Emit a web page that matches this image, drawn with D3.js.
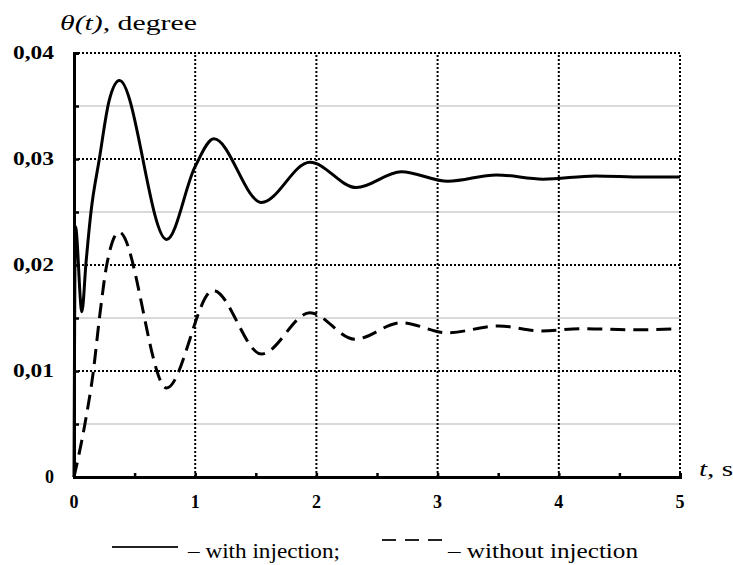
<!DOCTYPE html>
<html>
<head>
<meta charset="utf-8">
<script src="https://cdn.jsdelivr.net/npm/d3@7"></script>
<style>
  body { margin: 0; background: #fff; }
</style>
</head>
<body>
<div id="chart"></div>
<script>
// values
var tWith = [0, 0.012, 0.065, 0.099, 0.14, 0.209, 0.29, 0.375, 0.764, 1.0, 1.154, 1.547, 1.946, 2.33, 2.70, 3.086, 3.485, 3.87, 4.3, 4.7, 5];
var vWith = [0, 0.0236, 0.0156, 0.0202, 0.025, 0.030, 0.0355, 0.0374, 0.0224, 0.0293, 0.0319, 0.0259, 0.0297, 0.0273, 0.0288, 0.0279, 0.0285, 0.0281, 0.0284, 0.0283, 0.0283];

var tWithout = [0, 0.09, 0.16, 0.21, 0.27, 0.373, 0.764, 1.148, 1.547, 1.946, 2.317, 2.70, 3.08, 3.50, 3.86, 4.2, 4.6, 5];
var vWithout = [0, 0.005, 0.010, 0.015, 0.020, 0.0231, 0.0084, 0.0176, 0.0116, 0.0155, 0.0130, 0.01456, 0.0136, 0.01425, 0.01378, 0.0140, 0.01388, 0.0140];

var xTicks = [0, 1, 2, 3, 4, 5];
var yTicks = [0, 0.01, 0.02, 0.03, 0.04];
var yLabels = ["0", "0,01", "0,02", "0,03", "0,04"];

var width = 733, height = 565;
var x0 = 74, x1 = 680, y0 = 477, y1 = 53;
var serif = "'Liberation Serif', 'Times New Roman', Times, serif";

var svg = d3.select("#chart").append("svg")
    .attr("width", width)
    .attr("height", height)
    .attr("font-family", serif);

var x = d3.scaleLinear().domain([0, 5]).range([x0, x1]);
var y = d3.scaleLinear().domain([0, 0.04]).range([y0, y1]);

// light grey lines at the half steps
svg.append("g").selectAll("line")
    .data([0.005, 0.015, 0.025, 0.035])
    .enter().append("line")
      .attr("x1", x0).attr("x2", x1)
      .attr("y1", d => y(d)).attr("y2", d => y(d))
      .style("stroke", "#b4b4b4")
      .style("stroke-width", 1.2);

// dotted major grid
var grid = svg.append("g")
    .style("stroke", "#000")
    .style("stroke-width", 2)
    .style("stroke-dasharray", "2,2");

grid.selectAll("line.h")
    .data(yTicks.slice(1))
    .enter().append("line")
      .attr("class", "h")
      .attr("x1", x0).attr("x2", x1)
      .attr("y1", d => y(d)).attr("y2", d => y(d));

grid.selectAll("line.v")
    .data(xTicks.slice(1))
    .enter().append("line")
      .attr("class", "v")
      .attr("x1", d => x(d)).attr("x2", d => x(d))
      .attr("y1", y0).attr("y2", y1);

// curves
var line = d3.line()
    .x(d => x(d[0]))
    .y(d => y(d[1]))
    .curve(d3.curveMonotoneX);

svg.append("path")
    .datum(tWithout.map((t, i) => [t, vWithout[i]]))
    .attr("d", line)
    .style("fill", "none")
    .style("stroke", "#000")
    .style("stroke-width", 3)
    .style("stroke-dasharray", "15,8");

svg.append("path")
    .datum(tWith.map((t, i) => [t, vWith[i]]))
    .attr("d", line)
    .style("fill", "none")
    .style("stroke", "#000")
    .style("stroke-width", 3);

// axes
var yAxis = d3.axisRight(y)
    .tickValues(d3.range(0, 0.0401, 0.005))
    .tickSize(5)
    .tickFormat("");
var gy = svg.append("g").attr("transform", "translate(" + x0 + ",0)").call(yAxis);

var xAxis = d3.axisTop(x)
    .tickValues(d3.range(0, 5.01, 0.5))
    .tickSize(4)
    .tickFormat("");
var gx = svg.append("g").attr("transform", "translate(0," + y0 + ")").call(xAxis);

[gx, gy].forEach(function (g) {
    g.select(".domain").attr("stroke-width", 3);
    g.selectAll(".tick line").attr("stroke-width", 2.5);
});

// tick labels
svg.append("g").selectAll("text")
    .data(yTicks)
    .enter().append("text")
      .attr("x", 54)
      .attr("y", d => y(d) + 6)
      .attr("text-anchor", "end")
      .attr("textLength", (d, i) => i == 0 ? null : 41)
      .attr("lengthAdjust", "spacingAndGlyphs")
      .attr("font-family", serif)
      .style("font-weight", "bold")
      .style("font-size", "18px")
      .text((d, i) => yLabels[i]);

svg.append("g").selectAll("text")
    .data(xTicks)
    .enter().append("text")
      .attr("x", d => x(d))
      .attr("y", 508)
      .attr("text-anchor", "middle")
      .attr("font-family", serif)
      .style("font-weight", "bold")
      .style("font-size", "18px")
      .text(d => d);

// axis titles
var title = svg.append("text")
    .attr("x", 60)
    .attr("y", 30)
    .attr("textLength", 137)
    .attr("lengthAdjust", "spacingAndGlyphs")
    .attr("font-family", serif)
    .style("font-size", "21px");
title.append("tspan").style("font-style", "italic").text("θ(t),");
title.append("tspan").text(" degree");

var xt = svg.append("text")
    .attr("x", 699)
    .attr("y", 476)
    .attr("textLength", 34)
    .attr("lengthAdjust", "spacingAndGlyphs")
    .attr("font-family", serif)
    .style("font-size", "21px");
xt.append("tspan").style("font-style", "italic").text("t,");
xt.append("tspan").text(" s");

// legend
svg.append("line")
    .attr("x1", 112).attr("x2", 178)
    .attr("y1", 547).attr("y2", 547)
    .style("stroke", "#222")
    .style("stroke-width", 2);

svg.append("text")
    .attr("x", 188).attr("y", 558)
    .attr("textLength", 152)
    .attr("lengthAdjust", "spacingAndGlyphs")
    .attr("font-family", serif)
    .style("font-size", "20px")
    .text("– with injection;");

svg.append("line")
    .attr("x1", 382).attr("x2", 442)
    .attr("y1", 540).attr("y2", 540)
    .style("stroke", "#222")
    .style("stroke-width", 2)
    .style("stroke-dasharray", "14,9");

svg.append("text")
    .attr("x", 448).attr("y", 558)
    .attr("textLength", 190)
    .attr("lengthAdjust", "spacingAndGlyphs")
    .attr("font-family", serif)
    .style("font-size", "20px")
    .text("– without injection");
</script>
</body>
</html>
